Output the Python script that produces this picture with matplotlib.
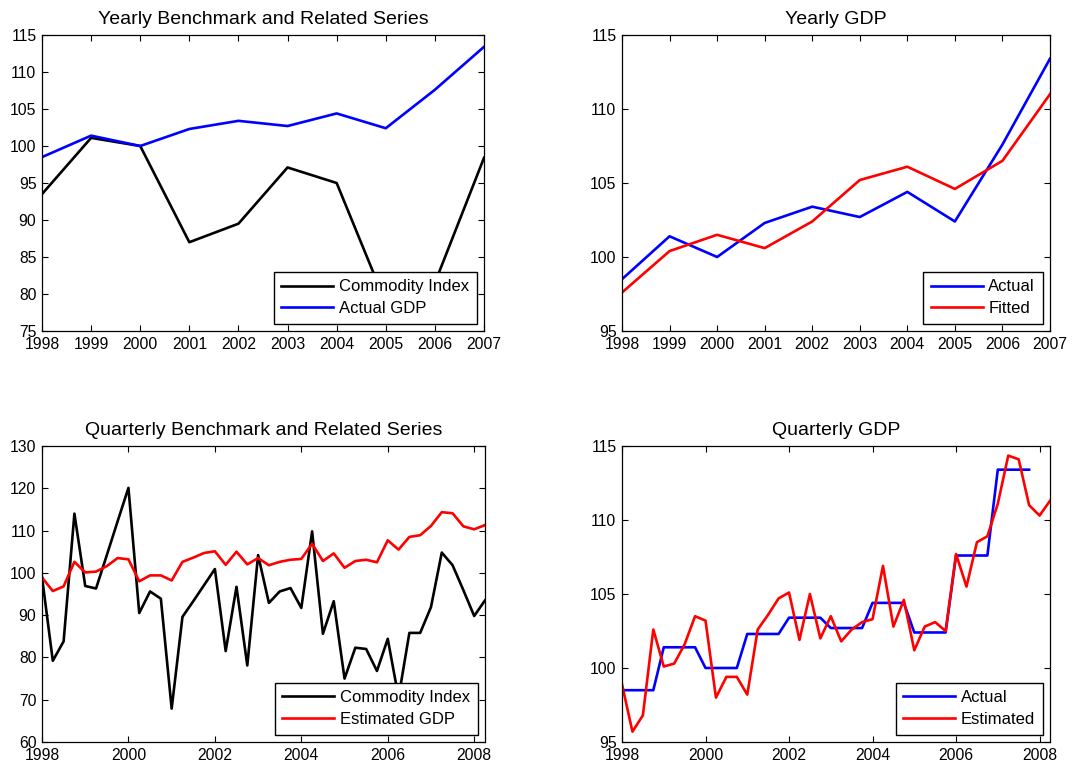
import numpy as np
import matplotlib
matplotlib.use("Agg")
import matplotlib.pyplot as plt

plt.rcParams['font.family'] = ['Liberation Sans', 'DejaVu Sans']

# ---- yearly data ----
years = [1998, 1999, 2000, 2001, 2002, 2003, 2004, 2005, 2006, 2007]
commodity_yearly = [93.5, 101.1, 100.0, 87.0, 89.5, 97.1, 95.0, 78.8, 81.5, 98.4]
gdp_actual_yearly = [98.5, 101.4, 100.0, 102.3, 103.4, 102.7, 104.4, 102.4, 107.6, 113.4]
gdp_fitted_yearly = [97.6, 100.4, 101.5, 100.6, 102.4, 105.2, 106.1, 104.6, 106.5, 111.0]

# ---- quarterly data (1998Q1 .. 2008Q2) ----
quarter_start = 1998.0
commodity_quarterly = [99.0, 79.2, 83.8, 114.0, 96.9, 96.3, 104.2, 112.2,
                       120.1, 90.5, 95.6, 93.9, 67.9, 89.6, 93.3, 97.1,
                       100.9, 81.5, 96.7, 78.1, 104.2, 92.9, 95.6, 96.4,
                       91.7, 109.8, 85.6, 93.3, 75.0, 82.3, 82.0, 76.8,
                       84.4, 70.5, 85.8, 85.8, 91.9, 104.8, 101.8, 95.9,
                       89.8, 93.5]
gdp_estimated_quarterly = [98.9, 95.7, 96.8, 102.6, 100.1, 100.3, 101.6, 103.5,
                           103.2, 98.0, 99.4, 99.4, 98.2, 102.6, 103.6, 104.7,
                           105.1, 101.9, 105.0, 102.0, 103.5, 101.8, 102.6, 103.1,
                           103.3, 106.9, 102.8, 104.6, 101.2, 102.8, 103.1, 102.5,
                           107.7, 105.5, 108.5, 108.9, 111.1, 114.35, 114.1, 111.0,
                           110.3, 111.3]

quarters = quarter_start + 0.25 * np.arange(len(gdp_estimated_quarterly))
# actual GDP at quarterly frequency: each quarter carries its year's value
gdp_actual_quarterly = np.repeat(gdp_actual_yearly, 4)
quarters_actual = quarter_start + 0.25 * np.arange(len(gdp_actual_quarterly))

BLUE = '#0000ff'
RED = '#ff0000'
BLACK = '#000000'
LW = 1.9
TICK_FS = 11.3
LEGEND_FS = 12
TITLE_FS = 14

W, H = 1091, 767
fig = plt.figure(figsize=(W / 100, H / 100), dpi=100)


def axes_px(left, top, right, bottom):
    return fig.add_axes([left / W, 1 - bottom / H, (right - left) / W, (bottom - top) / H])


def style(ax):
    ax.tick_params(direction='in', top=True, right=True, length=4, width=0.8,
                   labelsize=TICK_FS, pad=4, colors='black')
    for s in ax.spines.values():
        s.set_linewidth(0.9)
        s.set_color('black')


def legend(ax):
    leg = ax.legend(loc='lower right', fontsize=LEGEND_FS, frameon=True, fancybox=False,
                    edgecolor='black', framealpha=1, borderaxespad=0.45,
                    handlelength=3.1, handletextpad=0.35, borderpad=0.45,
                    labelspacing=0.4)
    leg.get_frame().set_linewidth(1.0)


# top-left: yearly benchmark and related series
ax1 = axes_px(42, 35, 484, 331)
ax1.plot(years, commodity_yearly, color=BLACK, lw=LW, label='Commodity Index')
ax1.plot(years, gdp_actual_yearly, color=BLUE, lw=LW, label='Actual GDP')
ax1.set_xlim(1998, 2007)
ax1.set_ylim(75, 115)
ax1.set_xticks(years)
ax1.set_yticks(np.arange(75, 116, 5))
ax1.set_title('Yearly Benchmark and Related Series', fontsize=TITLE_FS, pad=8)
style(ax1)
legend(ax1)

# top-right: yearly GDP
ax2 = axes_px(622, 35, 1050, 331)
ax2.plot(years, gdp_actual_yearly, color=BLUE, lw=LW, label='Actual')
ax2.plot(years, gdp_fitted_yearly, color=RED, lw=LW, label='Fitted')
ax2.set_xlim(1998, 2007)
ax2.set_ylim(95, 115)
ax2.set_xticks(years)
ax2.set_yticks(np.arange(95, 116, 5))
ax2.set_title('Yearly GDP', fontsize=TITLE_FS, pad=8)
style(ax2)
legend(ax2)

# bottom-left: quarterly benchmark and related series
ax3 = axes_px(42, 446, 485, 742)
ax3.plot(quarters, commodity_quarterly, color=BLACK, lw=LW, label='Commodity Index')
ax3.plot(quarters, gdp_estimated_quarterly, color=RED, lw=LW, label='Estimated GDP')
ax3.set_xlim(1998, quarters[-1])
ax3.set_ylim(60, 130)
ax3.set_xticks(np.arange(1998, 2009, 2))
ax3.set_yticks(np.arange(60, 131, 10))
ax3.set_title('Quarterly Benchmark and Related Series', fontsize=TITLE_FS, pad=8)
style(ax3)
legend(ax3)

# bottom-right: quarterly GDP
ax4 = axes_px(622, 446, 1050, 742)
ax4.plot(quarters_actual, gdp_actual_quarterly, color=BLUE, lw=LW, label='Actual')
ax4.plot(quarters, gdp_estimated_quarterly, color=RED, lw=LW, label='Estimated')
ax4.set_xlim(1998, quarters[-1])
ax4.set_ylim(95, 115)
ax4.set_xticks(np.arange(1998, 2009, 2))
ax4.set_yticks(np.arange(95, 116, 5))
ax4.set_title('Quarterly GDP', fontsize=TITLE_FS, pad=8)
style(ax4)
legend(ax4)

fig.savefig('out.png', dpi=100, facecolor='white')
